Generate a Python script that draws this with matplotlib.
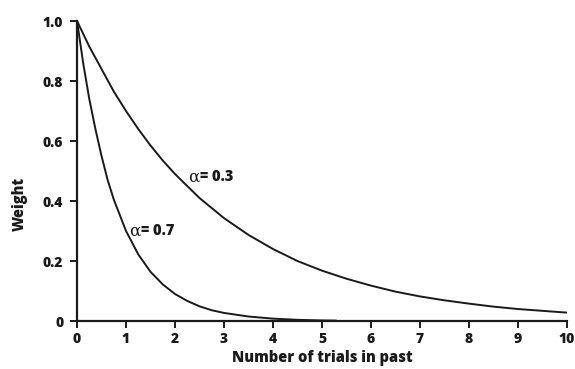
import matplotlib
matplotlib.use('Agg')
import matplotlib.pyplot as plt
from matplotlib.transforms import offset_copy

# weights, alpha = 0.3
t_slow = [0, 0.25, 0.5, 0.75, 1, 1.25, 1.5, 1.75, 2, 2.5, 3, 3.5, 4, 4.5, 5,
          5.5, 6, 6.5, 7, 7.5, 8, 8.5, 9, 9.5, 10]
w_slow = [1.0, 0.915, 0.84, 0.765, 0.70, 0.64, 0.585, 0.535, 0.49, 0.41, 0.343,
          0.287, 0.24, 0.20, 0.168, 0.141, 0.118, 0.098, 0.082, 0.069, 0.058,
          0.048, 0.040, 0.034, 0.028]

# weights, alpha = 0.7
t_fast = [0, 0.125, 0.25, 0.375, 0.5, 0.625, 0.75, 1, 1.25, 1.5, 1.75, 2,
          2.25, 2.5, 2.75, 3, 3.5, 4, 4.5, 5, 5.3]
w_fast = [1.0, 0.86, 0.74, 0.64, 0.55, 0.47, 0.405, 0.30, 0.222, 0.164, 0.122,
          0.09, 0.067, 0.049, 0.036, 0.027, 0.015, 0.008, 0.004, 0.002, 0.0015]

x_ticks = list(range(0, 11))
y_ticks = [0, 0.2, 0.4, 0.6, 0.8, 1.0]
y_ticklabels = ['0', '0.2', '0.4', '0.6', '0.8', '1.0']

plt.rcParams['font.family'] = ['Open Sans', 'DejaVu Sans']
INK = '#1a1a1a'

fig = plt.figure(figsize=(5.75, 3.69), dpi=100)
ax = fig.add_axes([0.134, 0.130, 0.852, 0.813])

ax.plot(t_slow, w_slow, color=INK, linewidth=1.4, solid_capstyle='butt')
ax.plot(t_fast, w_fast, color=INK, linewidth=1.4, solid_capstyle='butt')

def alpha_label(x, y, value):
    ax.text(x, y, 'α', fontsize=12, family='DejaVu Serif', color=INK,
            ha='left', va='center')
    tr = offset_copy(ax.transData, fig=fig, x=8.5, y=0, units='points')
    ax.text(x, y, '= ' + value, fontsize=10.5, fontweight='heavy', color=INK,
            ha='left', va='center', transform=tr)

alpha_label(2.27, 0.48, '0.3')
alpha_label(1.07, 0.30, '0.7')

ax.set_xlim(0, 10)
ax.set_ylim(0, 1.0)
ax.set_xticks(x_ticks)
ax.set_yticks(y_ticks)
ax.set_yticklabels(y_ticklabels)
ax.tick_params(direction='out', length=5, width=1.4, labelsize=10,
               color=INK, labelcolor=INK)
ax.tick_params(axis='x', pad=3)
ax.tick_params(axis='y', pad=5)
for lab in ax.get_xticklabels() + ax.get_yticklabels():
    lab.set_fontweight('heavy')

for side in ['top', 'right']:
    ax.spines[side].set_visible(False)
for side in ['left', 'bottom']:
    ax.spines[side].set_linewidth(1.6)
    ax.spines[side].set_color(INK)

ax.set_xlabel('Number of trials in past', fontsize=10.5, fontweight='heavy',
              color=INK, labelpad=3)
ax.set_ylabel('Weight', fontsize=10.5, fontweight='heavy', color=INK)
ax.yaxis.set_label_coords(-0.10, 0.39)

fig.savefig('out.png', dpi=100)
